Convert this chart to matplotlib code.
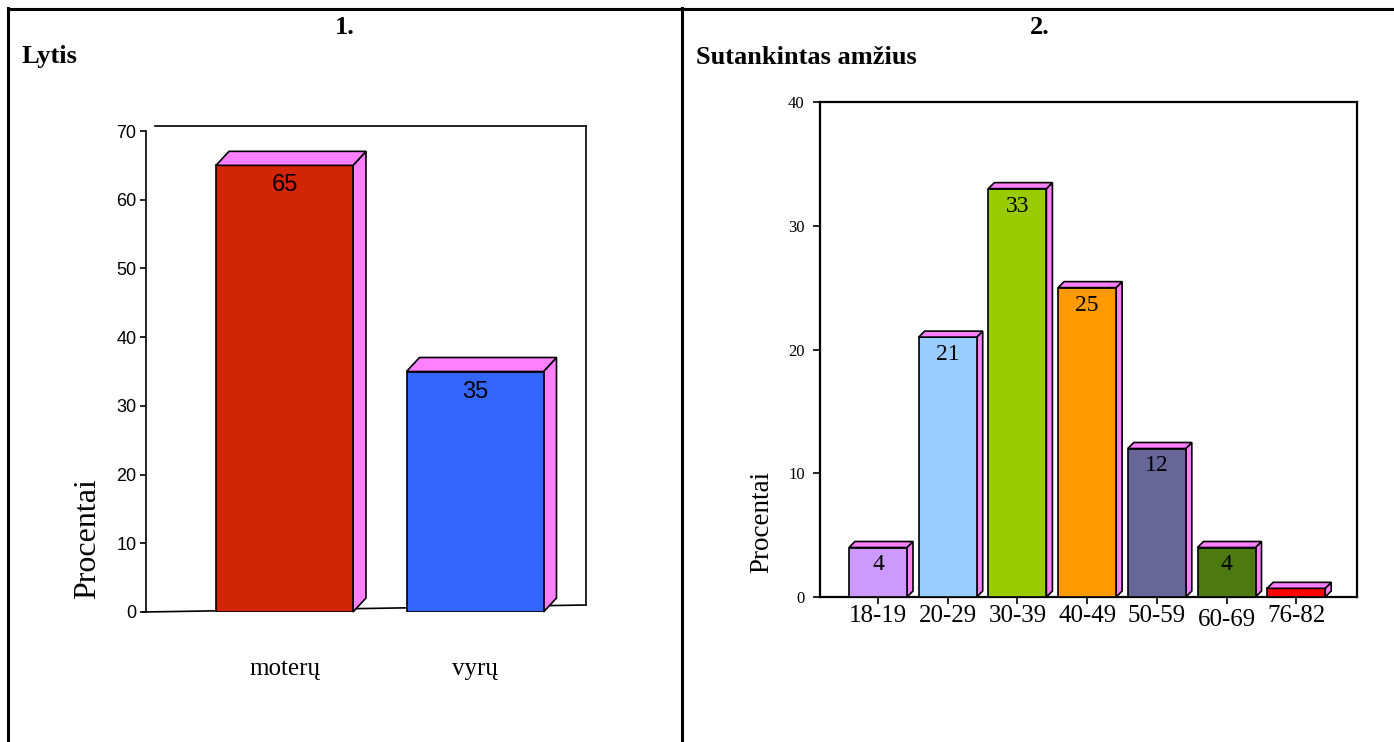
import matplotlib
matplotlib.use("Agg")
import matplotlib.pyplot as plt
from matplotlib.patches import Polygon
from matplotlib.lines import Line2D
from matplotlib.transforms import ScaledTranslation

# ---- data -------------------------------------------------------------
gender_labels = ["moterų", "vyrų"]
gender_values = [65, 35]
gender_colors = ["#D12506", "#3366FF"]
gender_yticks = [0, 10, 20, 30, 40, 50, 60, 70]

age_labels = ["18-19", "20-29", "30-39", "40-49", "50-59", "60-69", "76-82"]
age_values = [4, 21, 33, 25, 12, 4, 0.7]
age_value_text = ["4", "21", "33", "25", "12", "4", ""]
age_colors = ["#CC99FF", "#99CCFF", "#99CC00", "#FF9900", "#666699", "#4C7A10", "#FF0000"]
age_yticks = [0, 10, 20, 30, 40]

SIDE = "#FF80FF"
SERIF = "Liberation Serif"
SANS = "Liberation Sans"

W, H = 1394, 742
fig = plt.figure(figsize=(W / 100, H / 100), dpi=100)


def fx(px):
    return px / W


def fy(py):
    return 1 - py / H


def axes_px(left, top, right, bottom):
    return fig.add_axes([fx(left), fy(bottom), (right - left) / W, (bottom - top) / H])


def fig_line(xs, ys, lw=1.2):
    fig.add_artist(Line2D([fx(x) for x in xs], [fy(y) for y in ys],
                          transform=fig.transFigure, color="black", lw=lw,
                          zorder=-1))


def bars_3d(ax, xs, vals, width, colors, dx_px, dy_px, px_per_x, px_per_y):
    """Front faces via ax.bar plus top/side faces shifted by a pixel depth."""
    ddx = dx_px / px_per_x
    ddy = dy_px / px_per_y
    ax.bar(xs, vals, width=width, color=colors, edgecolor="black",
           linewidth=1.2, zorder=3)
    for x, v in zip(xs, vals):
        l, r = x - width / 2, x + width / 2
        top = Polygon([(l, v), (l + ddx, v + ddy), (r + ddx, v + ddy), (r, v)],
                      closed=True, facecolor=SIDE, edgecolor="black",
                      linewidth=1.2, zorder=4, clip_on=False)
        side = Polygon([(r, 0), (r, v), (r + ddx, v + ddy), (r + ddx, ddy)],
                       closed=True, facecolor=SIDE, edgecolor="black",
                       linewidth=1.2, zorder=2, clip_on=False)
        ax.add_patch(top)
        ax.add_patch(side)


# ---- table borders and headings ---------------------------------------
fig_line([8, 1394], [8.5, 8.5], lw=2.2)
fig_line([8, 8], [8, 742], lw=2.2)
fig_line([682, 682], [8, 742], lw=2.2)

fig.text(fx(345), fy(28), "1.", ha="center", va="center",
         fontfamily=SERIF, fontweight="bold", fontsize=19)
fig.text(fx(22), fy(57), "Lytis", ha="left", va="center",
         fontfamily=SERIF, fontweight="bold", fontsize=19)
fig.text(fx(1040), fy(28), "2.", ha="center", va="center",
         fontfamily=SERIF, fontweight="bold", fontsize=19)
fig.text(fx(696), fy(57), "Sutankintas amžius", ha="left", va="center",
         fontfamily=SERIF, fontweight="bold", fontsize=19)

# ---- chart 1: gender --------------------------------------------------
L_left, L_top, L_right, L_bottom = 146, 131, 585, 612
ax1 = axes_px(L_left, L_top, L_right, L_bottom)
px_x1 = 190.5
x0_1 = -(284.5 - L_left) / px_x1
ax1.set_xlim(x0_1, x0_1 + (L_right - L_left) / px_x1)
ax1.set_ylim(0, 70)
px_y1 = (L_bottom - L_top) / 70
ax1.patch.set_alpha(0)
for s in ["top", "right", "bottom"]:
    ax1.spines[s].set_visible(False)
ax1.spines["left"].set_linewidth(1.2)

# back wall and floor
fig_line([155, 586], [126, 126])
fig_line([586, 586], [126, 605])
fig_line([143, 586], [612, 605])

xs1 = list(range(len(gender_values)))
bars_3d(ax1, xs1, gender_values, 137 / px_x1, gender_colors, 13, 14, px_x1, px_y1)
for x, v in zip(xs1, gender_values):
    ax1.annotate(str(v), (x, v), xytext=(0, -6.5), textcoords="offset points",
                 ha="center", va="top", fontfamily=SANS, fontsize=17, zorder=6)

ax1.set_yticks(gender_yticks)
ax1.set_yticklabels([str(t) for t in gender_yticks])
ax1.tick_params(axis="y", direction="out", length=4, width=1.2, pad=3,
                labelsize=13)
for lbl in ax1.get_yticklabels():
    lbl.set_fontfamily(SANS)
ax1.set_xticks(xs1)
ax1.set_xticklabels(gender_labels, fontfamily=SERIF, fontsize=18)
ax1.tick_params(axis="x", length=0, pad=33)
fig.text(fx(88), fy(539), "Procentai", rotation=90, ha="center", va="center",
         fontfamily=SERIF, fontsize=23)

# ---- chart 2: age groups ----------------------------------------------
R_left, R_top, R_right, R_bottom = 820, 102, 1357, 597
ax2 = axes_px(R_left, R_top, R_right, R_bottom)
px_x2 = 69.7
x0_2 = -(878 - R_left) / px_x2
ax2.set_xlim(x0_2, x0_2 + (R_right - R_left) / px_x2)
ax2.set_ylim(0, 40)
px_y2 = (R_bottom - R_top) / 40
for s in ax2.spines.values():
    s.set_linewidth(1.6)

xs2 = list(range(len(age_values)))
bars_3d(ax2, xs2, age_values, 58 / px_x2, age_colors, 6, 6, px_x2, px_y2)
for x, v, t in zip(xs2, age_values, age_value_text):
    if t:
        ax2.annotate(t, (x, v), xytext=(0, -5), textcoords="offset points",
                     ha="center", va="top", fontfamily=SERIF, fontsize=17, zorder=6)

ax2.set_yticks(age_yticks)
ax2.set_yticklabels([str(t) for t in age_yticks])
ax2.tick_params(axis="y", direction="out", length=5, width=1.2, pad=6,
                labelsize=12)
for lbl in ax2.get_yticklabels():
    lbl.set_fontfamily(SERIF)
ax2.set_xticks(xs2)
ax2.set_xticklabels(age_labels, fontfamily=SERIF, fontsize=18)
ax2.tick_params(axis="x", direction="out", length=5, width=1.2, pad=1)
for lbl in ax2.get_xticklabels():
    if lbl.get_text() == "60-69":
        lbl.set_transform(lbl.get_transform()
                          + ScaledTranslation(0, -0.04, fig.dpi_scale_trans))
fig.text(fx(762), fy(522), "Procentai", rotation=90, ha="center", va="center",
         fontfamily=SERIF, fontsize=19.5)

fig.savefig("out.png", dpi=100, facecolor="white")
